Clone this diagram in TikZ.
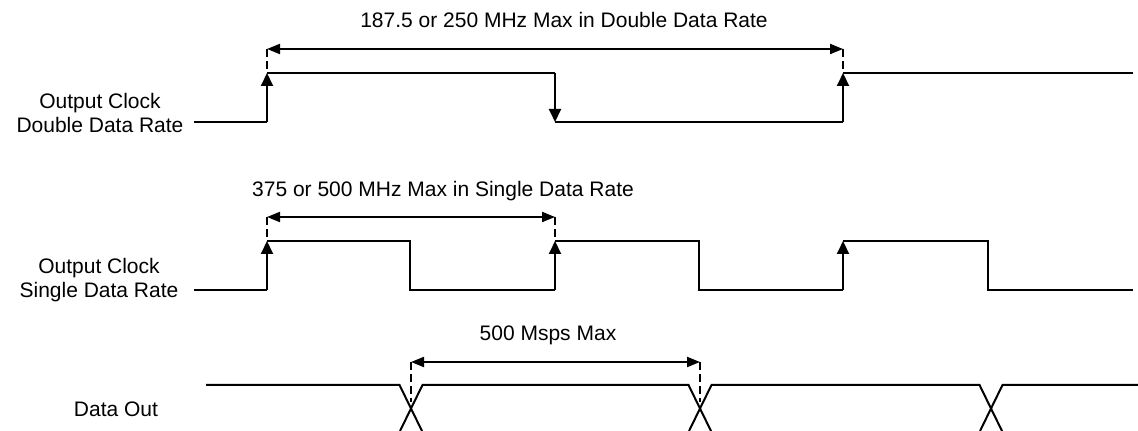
\documentclass[tikz,border=0pt]{standalone}
\usepackage{fontspec}
\setmainfont{Liberation Sans}
\usetikzlibrary{arrows.meta}

\begin{document}
\begin{tikzpicture}[x=0.5pt, y=-0.5pt]
        % Signal style definitions
        \tikzset{
            wave/.style={black, line width=1pt},
            edgeup/.style={black, line width=1pt, -{Triangle[length=6.5pt, width=6pt]}},
            period/.style={black, line width=1pt, {Triangle[length=6.5pt, width=5pt]}-{Triangle[length=6.5pt, width=5pt]}},
            guide/.style={black, line width=0.8pt, dash pattern=on 4pt off 2pt},
            lbl/.style={font=\fontsize{10.5}{12}\selectfont, align=center}
        }
        \useasboundingbox (0,0) rectangle (1138,431);

        % ==========================================
        % DOUBLE DATA RATE CLOCK (y = 73 to y = 122)
        % ==========================================

        \node[lbl] (ddrname) at (100,113) {Output Clock\\Double Data Rate};
        \node[lbl] (ddrtitle) at (564,20) {187.5 or 250 MHz Max in Double Data Rate};

        \coordinate (ddrA) at (267,49);
        \coordinate (ddrB) at (843,49);

        \draw[wave] (194,122) -- (267,122);
        \draw[edgeup] (267,122) -- (267,73);
        \draw[wave] (267,73) -- (555,73);
        \draw[edgeup] (555,73) -- (555,122);
        \draw[wave] (555,122) -- (843,122);
        \draw[edgeup] (843,122) -- (843,73);
        \draw[wave] (843,73) -- (1133,73);

        \draw[guide] (ddrA) -- (267,73);
        \draw[guide] (ddrB) -- (843,73);
        \draw[period] (ddrA) -- (ddrB);

        % ==========================================
        % SINGLE DATA RATE CLOCK (y = 241 to y = 290)
        % ==========================================

        \node[lbl] (sdrname) at (99,280) {Output Clock\\Single Data Rate};
        \node[lbl] (sdrtitle) at (443,191) {375 or 500 MHz Max in Single Data Rate};

        \coordinate (sdrA) at (267,217);
        \coordinate (sdrB) at (555,217);

        \draw[wave] (194,290) -- (267,290);
        \draw[edgeup] (267,290) -- (267,241);
        \draw[wave] (267,241) -- (410,241) -- (410,290) -- (555,290);
        \draw[edgeup] (555,290) -- (555,241);
        \draw[wave] (555,241) -- (699,241) -- (699,290) -- (843,290);
        \draw[edgeup] (843,290) -- (843,241);
        \draw[wave] (843,241) -- (988,241) -- (988,290) -- (1133,290);

        \draw[guide] (sdrA) -- (267,241);
        \draw[guide] (sdrB) -- (555,241);
        \draw[period] (sdrA) -- (sdrB);

        % ==========================================
        % DATA OUT (crossings at x = 411, 700, 991)
        % ==========================================

        \node[lbl] (dataname) at (116,409) {Data Out};
        \node[lbl] (datatitle) at (548,335) {500 Msps Max};

        \coordinate (dataA) at (411,362);
        \coordinate (dataB) at (700,362);

        \draw[wave] (206,385) -- (399.5,385) -- (422,431);
        \draw[wave] (400,431) -- (422.5,385) -- (688.5,385) -- (711,431);
        \draw[wave] (689,431) -- (711.5,385) -- (979.5,385) -- (1002,431);
        \draw[wave] (980,431) -- (1002.5,385) -- (1138,385);

        \draw[guide] (dataA) -- (411,402);
        \draw[guide] (dataB) -- (700,402);
        \draw[period] (dataA) -- (dataB);
    \end{tikzpicture}
\end{document}
